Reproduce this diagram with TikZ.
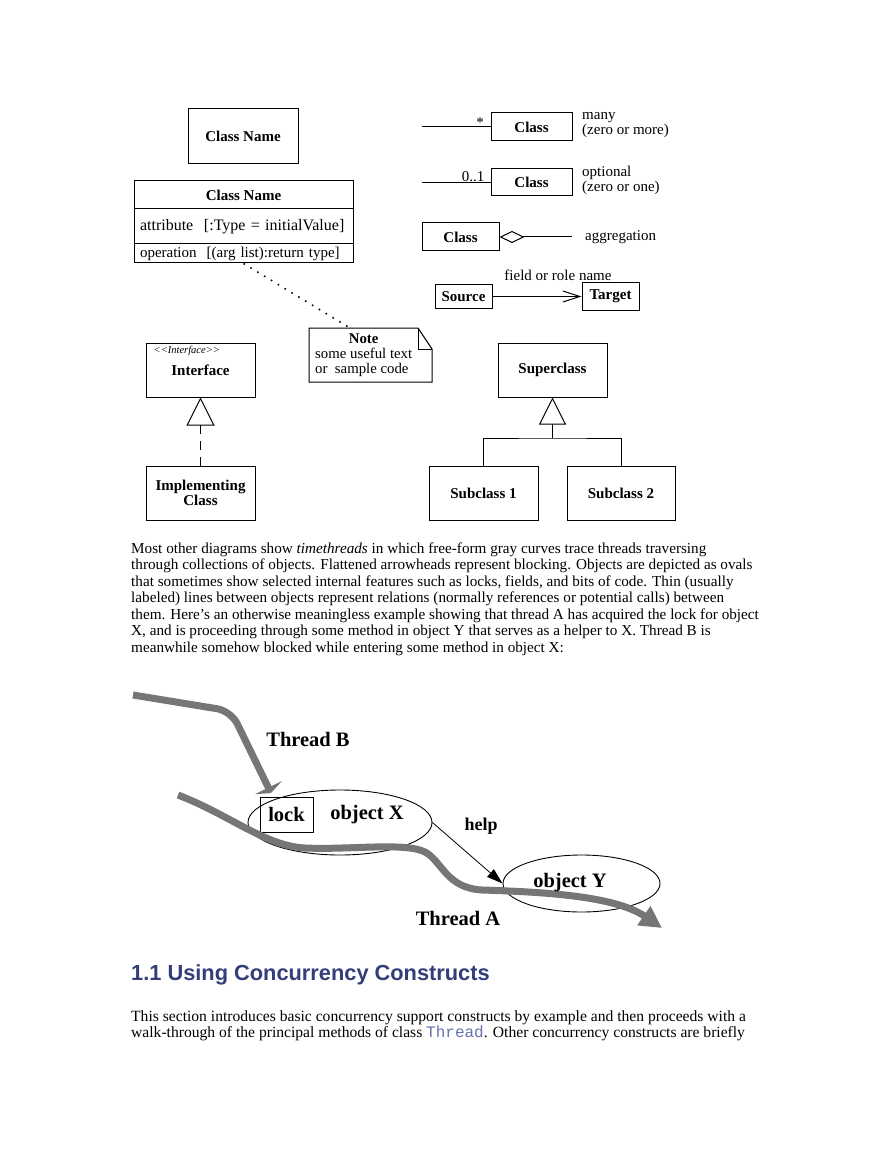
\documentclass[tikz,border=0pt]{standalone}
\usepackage{fontspec}
\setmainfont{Liberation Serif}
\setsansfont{Liberation Sans}
\setmonofont{Liberation Mono}
\usepackage{xcolor}
\usepackage{tikz}
\usetikzlibrary{positioning}
\usetikzlibrary{arrows.meta,shapes.geometric}
\usetikzlibrary{calc}

\definecolor{threadgray}{RGB}{118,118,118}
\definecolor{headblue}{RGB}{52,62,122}
\definecolor{codeblue}{RGB}{104,114,172}

\newcommand{\umlbold}{\fontsize{15}{15}\selectfont\bfseries}
\newcommand{\umlplain}{\fontsize{15}{15.5}\selectfont}
\newcommand{\bodyfont}{\fontsize{15.2}{16.5}\selectfont}
\newcommand{\sectfont}{\fontsize{15.6}{16.5}\selectfont}
\newcommand{\objfont}{\fontsize{20.5}{22}\selectfont\bfseries}

\tikzset{
  umlbox/.style={draw, line width=1pt, inner sep=0pt, font=\umlbold},
  umlrow/.style={draw, line width=1pt, inner xsep=6pt, inner ysep=0pt, text width=207pt, align=left},
  umlline/.style={line width=1pt},
  objoval/.style={draw, ellipse, line width=0.9pt, inner sep=0pt},
  thread/.style={draw=threadgray, line width=7pt},
  bodyline/.style={anchor=base west, inner sep=0pt, font=\bodyfont},
}

\begin{document}
\begin{tikzpicture}[x=1pt, y=-1pt]

 \useasboundingbox[fill=white] (0,0) rectangle (893,1155);

 % class boxes
 \node[umlbox, minimum width=110, minimum height=55] (clsSimple) at (243,136.5) {Class Name};

 \node[umlbox, minimum width=219, minimum height=28] (clsTop) at (243.5,195) {Class Name};
 \node[umlrow, minimum height=35, font=\fontsize{16}{16}\selectfont] (clsAttr) at (243.5,226.5) {attribute\ \ [:Type = initialValue]};
 \node[umlrow, minimum height=19, font=\fontsize{15}{15}\selectfont] (clsOper) at (243.5,253.5) {operation\ \ [(arg list):return type]};

 % note
 \coordinate (noteNW) at (309,328);
 \coordinate (noteSE) at (432,382);
 \coordinate (noteTop) at (350,328);
 \draw[umlline] (noteNW) -- (418,328) -- (432,349) -- (noteSE) -- (309,382) -- cycle;
 \draw[umlline] (418,328) |- (432,349);
 \node[anchor=west, inner sep=0pt, font=\fontsize{14.8}{15}\selectfont] (note) at (315,355)
   {\begin{tabular}{@{}l@{}}\multicolumn{1}{@{}c@{}}{\bfseries Note}\\some useful text\\or\ \ sample code\end{tabular}};
 \draw[line width=1.5pt, dash pattern=on 1.6pt off 6.4pt] (clsOper.south) -- (noteTop);

 % interface
 \node[umlbox, minimum width=109, minimum height=54] (iface) at (200.5,370) {Interface};
 \node[anchor=north west, inner sep=0pt, font=\fontsize{10.5}{11}\selectfont\itshape] (ifaceTag) at ([xshift=8pt, yshift=-3pt]iface.north west) {<{}<Interface>{}>};
 \node[umlbox, minimum width=109, minimum height=54, align=center] (impl) at (200.5,493) {Implementing\\Class};
 \draw[umlline, dash pattern=on 9pt off 7pt, -{Triangle[open, length=28pt, width=28pt]}] (impl) -- (iface);

 % multiplicities
 \node[umlbox, minimum width=81, minimum height=28] (clsMany) at (531.5,127) {Class};
 \coordinate (manyFree) at (422,127);
 \draw[umlline] (manyFree) -- (clsMany);
 \node[anchor=south, inner sep=0pt, font=\umlplain] (manyMult) at (480,128) {*};
 \node[anchor=west, align=left, inner sep=0pt, font=\umlplain] (manyNote) at (582,125) {many\\(zero or more)};

 \node[umlbox, minimum width=81, minimum height=27] (clsOpt) at (531.5,182.5) {Class};
 \coordinate (optFree) at (422,182.5);
 \draw[umlline] (optFree) -- (clsOpt);
 \node[anchor=south, inner sep=1pt, font=\umlplain] (optMult) at (473,182.5) {0..1};
 \node[anchor=west, align=left, inner sep=0pt, font=\umlplain] (optNote) at (582,180.5) {optional\\(zero or one)};

 % aggregation
 \node[umlbox, minimum width=77, minimum height=28] (clsAgg) at (460.5,237) {Class};
 \coordinate (aggFree) at (572,237);
 \draw[umlline, {Diamond[open, length=25pt, width=12pt]}-] (clsAgg) -- (aggFree);
 \node[anchor=west, inner sep=0pt, font=\umlplain] (aggNote) at (585,237) {aggregation};

 % navigable association
 \node[umlbox, minimum width=57, minimum height=23] (src) at (463.5,296.5) {Source};
 \node[umlbox, minimum width=57, minimum height=27] (tgt) at (610.5,296.5) {Target};
 \draw[umlline, -{Straight Barb[length=17pt, width=11pt]}] (src) -- (tgt);
 \node[inner sep=0pt, font=\umlplain] (roleName) at (558,275) {field or role name};

 % generalization
 \node[umlbox, minimum width=109, minimum height=54] (super) at (552.5,370) {Superclass};
 \node[umlbox, minimum width=109, minimum height=54] (sub1) at (483.5,493) {Subclass 1};
 \node[umlbox, minimum width=108, minimum height=54] (sub2) at (621,493) {Subclass 2};
 \coordinate (genJoin) at (552.5,438);
 \draw[umlline] (sub1.north) |- (genJoin) -| (sub2.north);
 \draw[umlline, -{Triangle[open, length=27pt, width=27pt]}] (genJoin) -- (super);

 % text
 \foreach \i/\txt in {
   0/{Most other diagrams show \textit{timethreads} in which free-form gray curves trace threads traversing},
   1/{through collections of objects. Flattened arrowheads represent blocking. Objects are depicted as ovals},
   2/{that sometimes show selected internal features such as locks, fields, and bits of code. Thin (usually},
   3/{labeled) lines between objects represent relations (normally references or potential calls) between},
   4/{them. Here's an otherwise meaningless example showing that thread A has acquired the lock for object},
   5/{X, and is proceeding through some method in object Y that serves as a helper to X. Thread B is},
   6/{meanwhile somehow blocked while entering some method in object X:} } {
     \node[bodyline] (para\i) at (131, 553+16.5*\i) {\txt};
 }

 % objects
 \node[objoval, minimum width=184, minimum height=65] (objX) at (340,822.5) {};
 \node[draw, line width=0.8pt, minimum width=53, minimum height=35, inner sep=0pt] (lock) at (286.5,814.5) {};
 \node[objoval, minimum width=157, minimum height=57] (objY) at (581.5,883.5) {};
 \draw[line width=0.8pt, -{Triangle[length=16pt, width=10pt]}] (objX.east) -- (objY.west);

 % threads
 \coordinate (tBstart) at (133,695);
 \coordinate (tBbend) at (231,711);
 \coordinate (tBend) at (271,793);
 \draw[thread, rounded corners=14pt, -{Triangle[width=30pt, length=6pt]}] (tBstart) -- (tBbend) -- (tBend);

 \coordinate (tAstart) at (178,795);
 \coordinate (tAend) at (662,928);
 \draw[thread, -{Triangle[width=22pt, length=22pt]}] (tAstart) .. controls (230,815) and (265,846) .. (305,848)
   .. controls (350,850) and (405,842) .. (425,852) .. controls (442,861) and (446,888) .. (482,890)
   .. controls (545,892) and (615,896) .. (tAend);

 % labels
 \node[font=\objfont] (lockName) at (lock) {lock};
 \node[font=\objfont] (objXName) at (367,815) {object X};
 \node[font=\objfont] (objYName) at (570,883) {object Y};
 \node[font=\fontsize{18}{18}\selectfont\bfseries] (helpName) at (481,826) {help};
 \node[font=\objfont] (threadBName) at (308,739) {Thread B};
 \node[font=\objfont] (threadAName) at (458,918) {Thread A};

 % section
 \node[anchor=base west, inner sep=0pt, font=\fontsize{21.8}{24}\selectfont\sffamily\bfseries, text=headblue] (sectHead) at (131,980) {1.1 Using Concurrency Constructs};

 \foreach \i/\txt in {
   0/{This section introduces basic concurrency support constructs by example and then proceeds with a},
   1/{walk-through of the principal methods of class {\fontsize{16}{16.5}\selectfont\ttfamily\color{codeblue}Thread}. Other concurrency constructs are briefly} } {
     \node[bodyline, font=\sectfont] (sect\i) at (131, 1021+16*\i) {\txt};
 }

\end{tikzpicture}
\end{document}
